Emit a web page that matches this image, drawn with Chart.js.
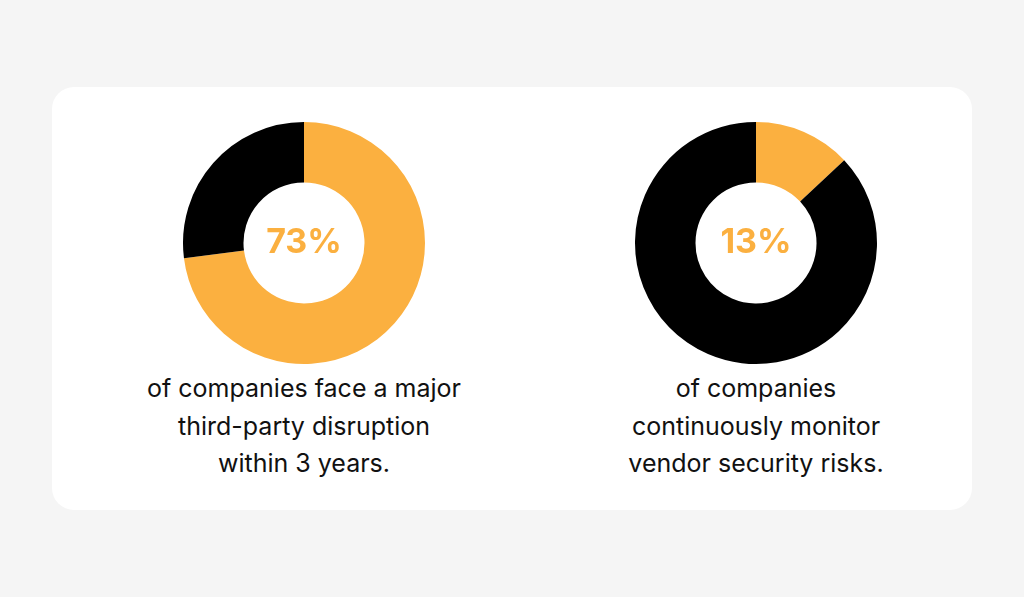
<!DOCTYPE html>
<html>
<head>
<meta charset="utf-8">
<script src="https://cdn.jsdelivr.net/npm/chart.js@4"></script>
<style>
  body { margin: 0; width: 1024px; height: 597px; background: #f5f5f5; font-family: "Inter", "DejaVu Sans", sans-serif; }
  .card { position: absolute; left: 52px; top: 87px; width: 920px; height: 423px; background: #fff; border-radius: 22px; }
  .chart { position: absolute; width: 250px; height: 250px; }
  .caption { position: absolute; width: 440px; text-align: center; font-size: 25px; line-height: 37.5px; color: #111; }
</style>
</head>
<body>
<div class="card"></div>
<div class="chart" style="left:179px;top:118px"><canvas id="c1"></canvas></div>
<div class="chart" style="left:631px;top:118px"><canvas id="c2"></canvas></div>
<div class="caption" style="left:84px;top:370px">of companies face a major<br>third-party disruption<br>within 3 years.</div>
<div class="caption" style="left:536px;top:370px">of companies<br>continuously monitor<br>vendor security risks.</div>
<script>
const segments = ['Yes', 'No'];
const disruptionValues = [73, 27];
const monitorValues = [13, 87];
const colors = ['#fbb040', '#000000'];

// Texte central en orange
const centerText = {
    id: 'centerText',
    afterDraw(chart) {
        const ctx = chart.ctx;
        const meta = chart.getDatasetMeta(0).data[0];
        ctx.save();
        ctx.fillStyle = '#fbb040';
        ctx.font = 'bold 34px Inter, sans-serif';
        ctx.textAlign = 'center';
        ctx.textBaseline = 'middle';
        ctx.fillText(chart.data.datasets[0].data[0] + '%', meta.x, meta.y);
        ctx.restore();
    }
};

function makeDonut(id, values) {
    new Chart(document.getElementById(id), {
        type: 'doughnut',
        data: { labels: segments, datasets: [{ data: values, backgroundColor: colors, borderWidth: 0 }] },
        options: {
            responsive: true,
            maintainAspectRatio: false,
            animation: false,
            cutout: '50%',
            layout: { padding: 4 },
            plugins: { legend: { display: false }, tooltip: { enabled: false } }
        },
        plugins: [centerText]
    });
}

makeDonut('c1', disruptionValues);
makeDonut('c2', monitorValues);
</script>
</body>
</html>
